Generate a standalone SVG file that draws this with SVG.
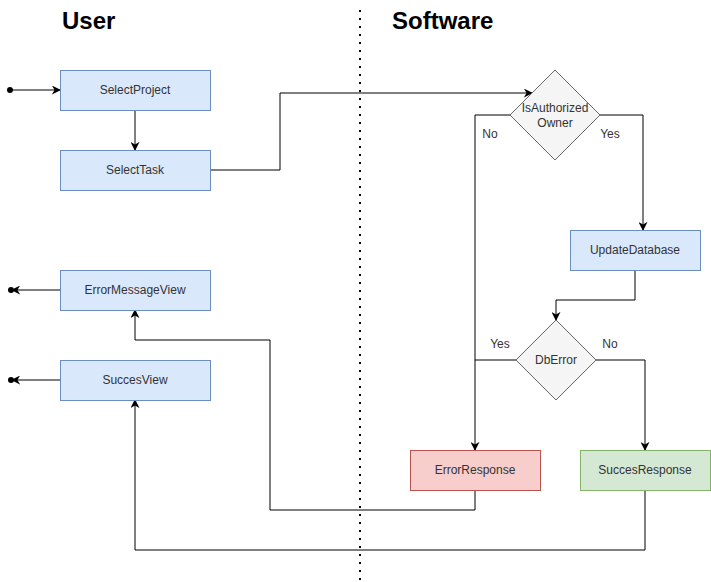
<svg xmlns="http://www.w3.org/2000/svg" width="711" height="582" viewBox="0 0 711 582">
<style>
text{font-family:"Liberation Sans",Arial,sans-serif;fill:#333}
.lbl{font-size:12px;text-anchor:middle;dominant-baseline:central}
.head{font-size:24px;font-weight:bold;fill:#000}
.blue{fill:#dae8fc;stroke:#6c8ebf}
.red{fill:#f8cecc;stroke:#b85450}
.green{fill:#d5e8d4;stroke:#82b366}
.dia{fill:#f5f5f5;stroke:#666}
.edge{fill:none;stroke:#000;stroke-width:1}
</style>
<defs>
<marker id="arr" viewBox="0 0 10 10" refX="9" refY="5" markerWidth="9" markerHeight="9" markerUnits="userSpaceOnUse" orient="auto">
<path d="M0,0 L10,5 L0,10 L3,5 Z" fill="#000"/>
</marker>
<marker id="dot" viewBox="0 0 10 10" refX="5" refY="5" markerWidth="6" markerHeight="6" markerUnits="userSpaceOnUse" orient="auto">
<circle cx="5" cy="5" r="5" fill="#000"/>
</marker>
</defs>
<rect width="711" height="582" fill="#fff"/>
<g id="headers">
<text class="head" x="62" y="29">User</text>
<text class="head" x="392" y="29">Software</text>
</g>
<line id="divider" x1="360" y1="10" x2="360" y2="580" stroke="#000" stroke-width="2" stroke-dasharray="2 6"/>
<g id="connectors">
<path class="edge" d="M10,90 L60,90" marker-start="url(#dot)" marker-end="url(#arr)"/>
<path class="edge" d="M135,110 L135,150" marker-end="url(#arr)"/>
<path class="edge" d="M210,170 L280,170 L280,93 L532,93" marker-end="url(#arr)"/>
<path class="edge" d="M510,115 L475,115 L475,450" marker-end="url(#arr)"/>
<path class="edge" d="M600,115 L643,115 L643,230" marker-end="url(#arr)"/>
<path class="edge" d="M635,270 L635,300 L556,300 L556,320" marker-end="url(#arr)"/>
<path class="edge" d="M516,360 L475,360"/>
<path class="edge" d="M596,360 L645,360 L645,450" marker-end="url(#arr)"/>
<path class="edge" d="M475,490 L475,510 L270,510 L270,340 L135,340 L135,310" marker-end="url(#arr)"/>
<path class="edge" d="M645,490 L645,550 L135,550 L135,400" marker-end="url(#arr)"/>
<path class="edge" d="M60,290 L12,290" marker-end="url(#arr)"/>
<circle cx="11" cy="290" r="3" fill="#000"/>
<path class="edge" d="M60,380 L12,380" marker-end="url(#arr)"/>
<circle cx="11" cy="380" r="3" fill="#000"/>
<text class="lbl" x="490" y="134">No</text>
<text class="lbl" x="610" y="134">Yes</text>
<text class="lbl" x="500" y="344">Yes</text>
<text class="lbl" x="610" y="344">No</text>
</g>
<g id="SelectProject"><rect class="blue" x="60.5" y="70.5" width="150" height="40"/><text class="lbl" x="135" y="90">SelectProject</text></g>
<g id="SelectTask"><rect class="blue" x="60.5" y="150.5" width="150" height="40"/><text class="lbl" x="135" y="170">SelectTask</text></g>
<g id="ErrorMessageView"><rect class="blue" x="60.5" y="270.5" width="150" height="40"/><text class="lbl" x="135" y="290">ErrorMessageView</text></g>
<g id="SuccesView"><rect class="blue" x="60.5" y="360.5" width="150" height="40"/><text class="lbl" x="135" y="380">SuccesView</text></g>
<g id="IsAuthorizedOwner"><path class="dia" d="M555,70 L600,115 L555,160 L510,115 Z"/><text class="lbl" x="555" y="108">IsAuthorized</text><text class="lbl" x="555" y="123">Owner</text></g>
<g id="UpdateDatabase"><rect class="blue" x="570.5" y="230.5" width="130" height="40"/><text class="lbl" x="635" y="250">UpdateDatabase</text></g>
<g id="DbError"><path class="dia" d="M556,320 L596,360 L556,400 L516,360 Z"/><text class="lbl" x="556" y="360">DbError</text></g>
<g id="ErrorResponse"><rect class="red" x="410.5" y="450.5" width="130" height="40"/><text class="lbl" x="475" y="470">ErrorResponse</text></g>
<g id="SuccesResponse"><rect class="green" x="580.5" y="450.5" width="130" height="40"/><text class="lbl" x="645" y="470">SuccesResponse</text></g>
</svg>
